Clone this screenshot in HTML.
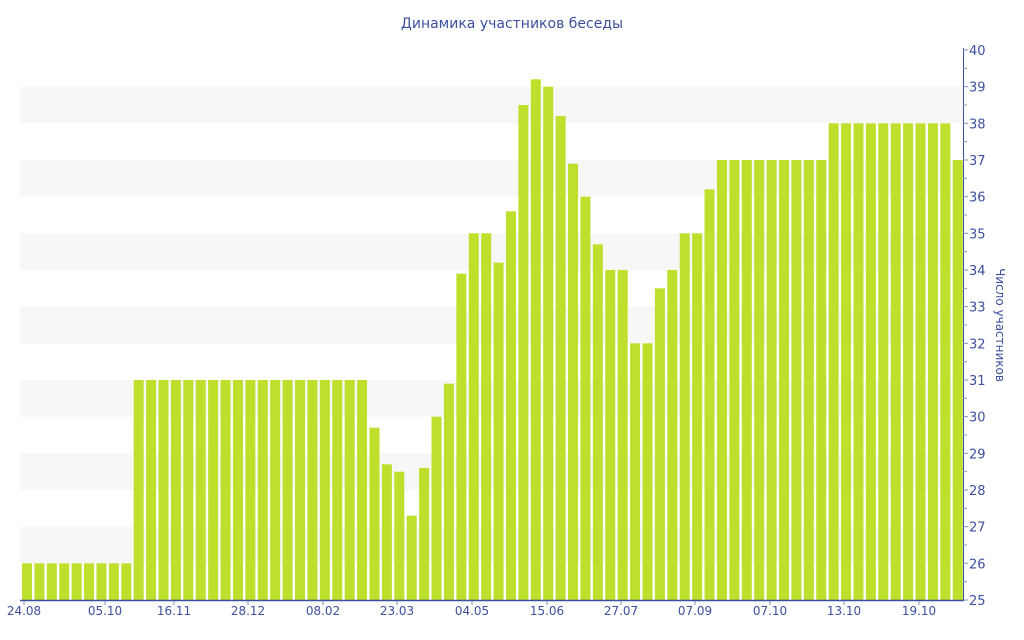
<!DOCTYPE html>
<html><head><meta charset="utf-8"><style>
html,body{margin:0;padding:0;background:#fff;width:1024px;height:640px;overflow:hidden}
</style></head><body>
<svg id="s" width="1024" height="640" xmlns="http://www.w3.org/2000/svg" font-family="'DejaVu Sans',sans-serif">
<text x="512" y="28" text-anchor="middle" font-size="14" fill="#3d4f9f">Динамика участников беседы</text>
<g id="bands"></g><g id="bars"></g><g id="axes"></g>
<text transform="translate(996,325) rotate(90)" text-anchor="middle" font-size="12" fill="#3d4f9f">Число участников</text>
</svg>
<script>
var ns="http://www.w3.org/2000/svg";
function el(p,t,a,txt){var e=document.createElementNS(ns,t);for(var k in a)e.setAttribute(k,a[k]);if(txt)e.textContent=txt;document.getElementById(p).appendChild(e);}
function Y(v){return 600-(v-25)*36.667;}
for(var v=26;v<40;v+=2){el('bands','rect',{x:20,y:Y(v+1),width:944,height:36.667,fill:'#f7f7f7'});}
var vals=[];
for(var i=0;i<9;i++)vals.push(26);
for(var i=0;i<19;i++)vals.push(31);
vals=vals.concat([29.7,28.7,28.5,27.3,28.6,30,30.9,33.9,35,35,34.2,35.6,38.5,39.2,39,38.2,36.9,36,34.7,34,34,32,32,33.5,34,35,35,36.2]);
for(var i=0;i<9;i++)vals.push(37);
for(var i=0;i<10;i++)vals.push(38);
vals.push(37);
for(var i=0;i<vals.length;i++){var cx=27+i*12.41;el('bars','rect',{x:cx-5,y:Y(vals[i]),width:10,height:600-Y(vals[i]),fill:'#bde02c'});}
el('axes','line',{x1:20,y1:600.5,x2:964,y2:600.5,stroke:'#3d4f9f','stroke-width':1.5});
el('axes','line',{x1:963.5,y1:48,x2:963.5,y2:601,stroke:'#3d4f9f','stroke-width':1});
for(var v=25;v<=40;v+=0.5){var y=Y(v);el('axes','line',{x1:963,y1:y,x2:v%1==0?968:967,y2:y,stroke:'#8090c0','stroke-width':1});
 if(v%1==0)el('axes','text',{x:969,y:y+5,'font-size':13,fill:'#3d4f9f'},String(v));}
var xl=[[24,'24.08'],[105,'05.10'],[174,'16.11'],[248,'28.12'],[323,'08.02'],[397,'23.03'],[472,'04.05'],[547,'15.06'],[621,'27.07'],[695,'07.09'],[770,'07.10'],[844,'13.10'],[919,'19.10']];
xl.forEach(function(a){el('axes','line',{x1:a[0],y1:601,x2:a[0],y2:605,stroke:'#8090c0'});el('axes','text',{x:a[0],y:615,'text-anchor':'middle','font-size':12,fill:'#3d4f9f'},a[1]);});
</script>
</body></html>
